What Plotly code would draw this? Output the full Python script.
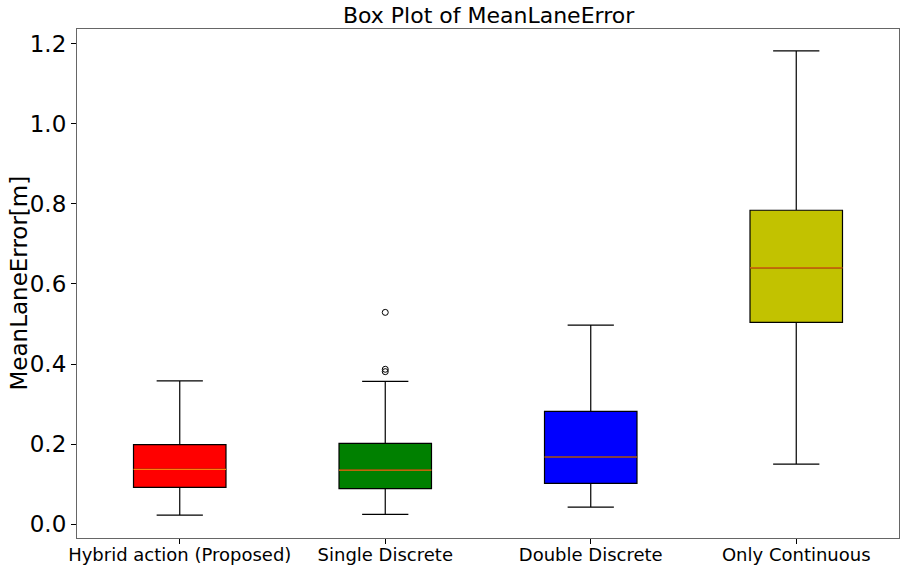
import plotly.graph_objects as go

categories = ["Hybrid action (Proposed)", "Single Discrete", "Double Discrete", "Only Continuous"]
positions = [1, 2, 3, 4]
lower_whisker = [0.023, 0.025, 0.043, 0.150]
q1 = [0.092, 0.089, 0.102, 0.504]
median = [0.137, 0.135, 0.168, 0.640]
q3 = [0.199, 0.202, 0.282, 0.784]
upper_whisker = [0.358, 0.357, 0.497, 1.182]
box_colors = ["#ff0000", "#008000", "#0000ff", "#c2c200"]
outlier_x = [2, 2, 2]
outlier_y = [0.529, 0.387, 0.381]
y_ticks = [0.0, 0.2, 0.4, 0.6, 0.8, 1.0, 1.2]

BOX_W = 0.45
FONT = "DejaVu Sans"

fig = go.Figure()
for i in range(len(categories)):
    fig.add_trace(go.Box(
        x=[positions[i]],
        q1=[q1[i]], median=[median[i]], q3=[q3[i]],
        lowerfence=[lower_whisker[i]], upperfence=[upper_whisker[i]],
        width=BOX_W, whiskerwidth=0.5,
        fillcolor=box_colors[i],
        line=dict(color="black", width=1.2),
        boxpoints=False, showlegend=False, name=categories[i],
    ))

# median lines (orange, as matplotlib default)
mx, my = [], []
for p, m in zip(positions, median):
    mx += [p - BOX_W / 2, p + BOX_W / 2, None]
    my += [m, m, None]
fig.add_trace(go.Scatter(x=mx, y=my, mode="lines",
                         line=dict(color="#ff7f0e", width=1.2),
                         showlegend=False, hoverinfo="skip"))

# outliers
fig.add_trace(go.Scatter(x=outlier_x, y=outlier_y, mode="markers",
                         marker=dict(symbol="circle-open", size=6,
                                     color="black", line=dict(width=1)),
                         showlegend=False))

fig.add_annotation(text="MeanLaneError[m]", xref="paper", yref="paper",
                   x=0, y=0.5, xanchor="center", yanchor="middle",
                   xshift=-59, textangle=-90, showarrow=False,
                   font=dict(size=23, family=FONT, color="black"))

fig.update_layout(
    width=915, height=579,
    margin=dict(l=77, r=16, t=29, b=41),
    paper_bgcolor="white", plot_bgcolor="white",
    font=dict(family=FONT, color="black"),
    title=dict(text="Box Plot of MeanLaneError", x=0.534, xanchor="center",
               y=0.974, yanchor="middle", font=dict(size=22, family=FONT)),
    xaxis=dict(range=[0.5, 4.5], tickvals=positions, ticktext=categories,
               tickfont=dict(size=18), ticks="outside", ticklen=5,
               ticklabelstandoff=-5,
               tickcolor="black", showgrid=False, zeroline=False, automargin=False,
               showline=True, linecolor="#666", linewidth=1.2, mirror=True),
    yaxis=dict(range=[-0.0342, 1.2364], tickvals=y_ticks,
               ticktext=[f"{v:.1f}" for v in y_ticks],
               tickfont=dict(size=23), ticks="outside", ticklen=5,
               tickcolor="black", showgrid=False, zeroline=False, automargin=False,
               showline=True, linecolor="#666", linewidth=1.2, mirror=True),
)

fig.write_html("out.html", config={"displayModeBar": False},
               post_script="document.body.style.margin='0';document.body.style.padding='0';")
